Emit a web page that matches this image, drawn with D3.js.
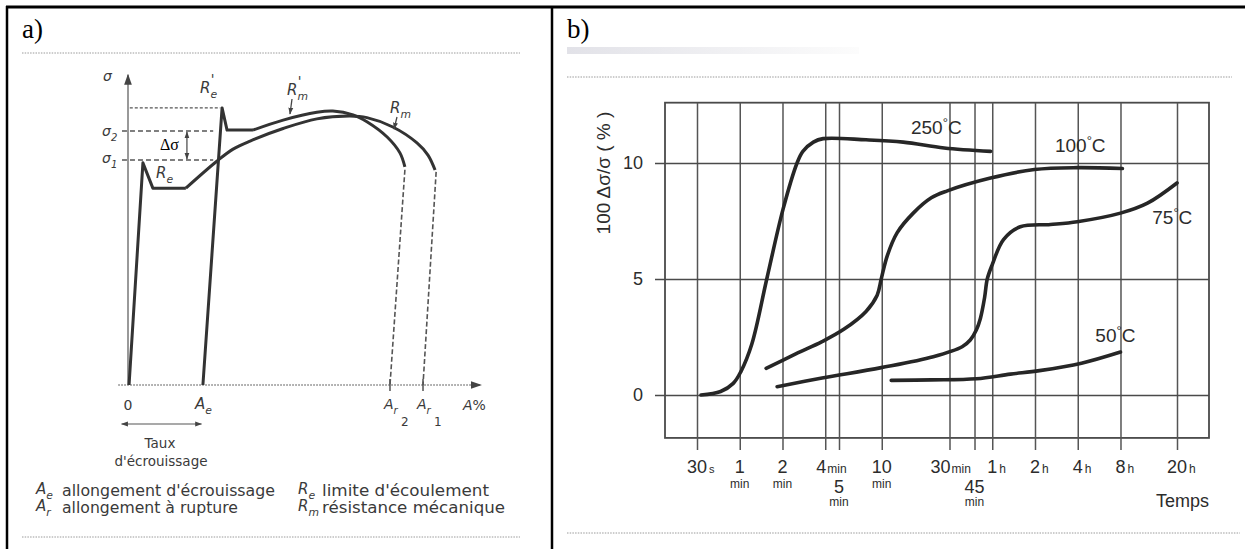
<!DOCTYPE html>
<html lang="fr">
<head>
<meta charset="UTF-8">
<title>Écrouissage et vieillissement après déformation</title>
<style>
  body { margin: 0; background: #fff; }
  svg { display: block; }
  .sans { font-family: "DejaVu Sans", sans-serif; fill: #3a3a3a; }
  .din { font-family: "Liberation Sans", Arial, sans-serif; fill: #2c2c2c; }
  .serif { font-family: "Liberation Serif", "Times New Roman", serif; fill: #000; }
</style>
</head>
<body>
<svg id="fig" width="1245" height="549"></svg>
<script src="https://d3js.org/d3.v7.min.js"></script>
<script>
// ---------- panel a : essai de traction (unités arbitraires, A% / sigma)
const curveRe = [[0.3, 0], [4.2, 71.2], [7.0, 63.1], [16.3, 63.1]];
const curveRm = [[16.3, 63.1], [25.1, 71.8], [29.6, 75.6], [34.4, 78.2], [43.7, 82.2], [53.2, 85.3],
                 [62.5, 86.2], [67.3, 85.7], [74.6, 82.7], [81.4, 77.6], [84.5, 73.7], [86.5, 68.9]];
const curveReP = [[21.1, 0], [26.5, 88.8], [27.9, 81.7], [35.2, 81.7]];
const curveRmP = [[35.2, 81.7], [43.7, 84.9], [53.2, 87.4], [57.7, 87.8], [63.4, 86.6], [67.3, 84.4],
                  [73.0, 79.5], [76.6, 74.4], [78.0, 69.9]];
const ruptureLines = [[[78.0, 69.0], [73.8, 0]], [[86.8, 68.3], [83.1, 0]]];
const stressLevels = [72.1, 81.4];   // sigma1, sigma2
const peakLevel = 88.8;              // R'e
const strainTicks = [0, 21.1, 73.8, 83.1];  // 0, Ae, Ar2, Ar1

// ---------- panel b : 100 Δσ/σ (%) en fonction du temps (s)
const timeTicks = [30, 60, 120, 240, 300, 600, 1800, 2700, 3600, 7200, 14400, 28800, 72000];
const tickNumbers = ["30", "1", "2", "4", "5", "10", "30", "45", "1", "2", "4", "8", "20"];
const tickUnits = ["s", "", "", "min", "", "", "min", "", "h", "h", "h", "h", "h"];
const tickUnder = ["", "min", "min", "", "min", "min", "", "min", "", "", "", "", ""];
const tickLowered = [false, false, false, false, true, false, false, true, false, false, false, false, false];
const valueTicks = [0, 5, 10];

const temperatures = ["250", "100", "75", "50"];
const series250 = [[32, 0.0], [44, 0.15], [54, 0.5], [61, 1.0], [73, 2.2], [93, 5.0], [121, 8.0], [152, 10.0],
                   [167, 10.5], [198, 10.9], [232, 11.05], [465, 11.0], [850, 10.9], [1650, 10.65], [3500, 10.5]];
const series100 = [[92, 1.15], [150, 1.78], [228, 2.3], [326, 2.84], [465, 3.6], [557, 4.3], [595, 5.0],
                   [656, 6.0], [771, 7.0], [1000, 7.84], [1340, 8.5], [1737, 8.8], [3500, 9.35], [7130, 9.72],
                   [14300, 9.8], [29700, 9.76]];
const series75 = [[110, 0.36], [228, 0.73], [595, 1.18], [1383, 1.65], [2210, 2.08], [2520, 2.37], [2780, 2.8],
                  [2970, 3.3], [3180, 4.2], [3320, 5.0], [3590, 5.6], [4320, 6.7], [5670, 7.25], [9250, 7.35],
                  [14300, 7.47], [28800, 7.84], [44600, 8.27], [72000, 9.14]];
const series50 = [[700, 0.63], [1340, 0.65], [2780, 0.7], [4830, 0.9], [7740, 1.05], [15300, 1.37], [28800, 1.85]];
const labelTimes = [1453, 15000, 66700, 26500];
const labelValues = [11.25, 10.47, 7.37, 2.28];

const svg = d3.select("#fig");

const defs = svg.append("defs");
defs.append("marker").attr("id", "head").attr("viewBox", "0 0 10 10")
    .attr("refX", 9).attr("refY", 5).attr("markerWidth", 7).attr("markerHeight", 7)
    .attr("markerUnits", "userSpaceOnUse").attr("orient", "auto-start-reverse")
    .append("path").attr("d", "M0,1.5 L10,5 L0,8.5 z").attr("fill", "#444");
defs.append("marker").attr("id", "bigHead").attr("viewBox", "0 0 10 10")
    .attr("refX", 9).attr("refY", 5).attr("markerWidth", 11).attr("markerHeight", 11)
    .attr("markerUnits", "userSpaceOnUse").attr("orient", "auto")
    .append("path").attr("d", "M0,1.5 L10,5 L0,8.5 z").attr("fill", "#444");
const grad = defs.append("linearGradient").attr("id", "smudge");
grad.append("stop").attr("offset", "0%").attr("stop-color", "#e2e2e8");
grad.append("stop").attr("offset", "100%").attr("stop-color", "#fcfcfc");

// table frame
svg.append("line").attr("x1", 6).attr("x2", 1245).attr("y1", 7).attr("y2", 7).attr("stroke", "#000").attr("stroke-width", 3);
svg.append("line").attr("x1", 7).attr("x2", 7).attr("y1", 6).attr("y2", 549).attr("stroke", "#000").attr("stroke-width", 2.5);
svg.append("line").attr("x1", 552).attr("x2", 552).attr("y1", 6).attr("y2", 549).attr("stroke", "#000").attr("stroke-width", 2.5);

svg.append("text").attr("class", "serif").attr("x", 22).attr("y", 38).attr("font-size", 27).text("a)");
svg.append("text").attr("class", "serif").attr("x", 567).attr("y", 38).attr("font-size", 27).text("b)");

function dotted(x1, x2, y) {
    svg.append("line").attr("x1", x1).attr("x2", x2).attr("y1", y).attr("y2", y)
        .attr("stroke", "#9a9a9a").attr("stroke-width", 1).attr("stroke-dasharray", "1.5,1.2");
}
dotted(22, 520, 53);
dotted(22, 520, 537);
dotted(567, 1232, 77);
dotted(567, 1240, 533);
svg.append("rect").attr("x", 567).attr("y", 47).attr("width", 292).attr("height", 7).attr("fill", "url(#smudge)");

// ================= panel a =================
const xA = d3.scaleLinear().domain([0, 100]).range([128, 483]);
const yA = d3.scaleLinear().domain([0, 100]).range([385, 73]);
const ga = svg.append("g");

// axes
ga.append("line").attr("x1", xA(0)).attr("x2", xA(0)).attr("y1", yA(0)).attr("y2", yA(99.4))
    .attr("stroke", "#555").attr("stroke-width", 1.2).attr("marker-end", "url(#bigHead)");
ga.append("line").attr("x1", xA(-2.8)).attr("x2", xA(99.4)).attr("y1", yA(0)).attr("y2", yA(0))
    .attr("stroke", "#666").attr("stroke-width", 1.1).attr("stroke-dasharray", "2,1")
    .attr("marker-end", "url(#bigHead)");
ga.selectAll(".stick").data(strainTicks.slice(2)).enter().append("line")
    .attr("x1", d => xA(d)).attr("x2", d => xA(d)).attr("y1", yA(0) - 6).attr("y2", yA(0) + 6)
    .attr("stroke", "#444").attr("stroke-width", 1.4);

// stress levels
ga.append("line").attr("x1", xA(0.5)).attr("x2", xA(26)).attr("y1", yA(peakLevel)).attr("y2", yA(peakLevel))
    .attr("stroke", "#555").attr("stroke-width", 1.2).attr("stroke-dasharray", "3,2");
ga.selectAll(".lvl").data(stressLevels).enter().append("line")
    .attr("x1", xA(-1.7)).attr("x2", xA(24)).attr("y1", d => yA(d)).attr("y2", d => yA(d))
    .attr("stroke", "#555").attr("stroke-width", 1.4).attr("stroke-dasharray", "5,3");
ga.append("line").attr("x1", xA(16.6)).attr("x2", xA(16.6))
    .attr("y1", yA(stressLevels[1]) + 1).attr("y2", yA(stressLevels[0]) - 1)
    .attr("stroke", "#444").attr("stroke-width", 1.2)
    .attr("marker-start", "url(#head)").attr("marker-end", "url(#head)");

// curves
const lineA = d3.line().x(d => xA(d[0])).y(d => yA(d[1]));
const smoothA = d3.line().x(d => xA(d[0])).y(d => yA(d[1])).curve(d3.curveCatmullRom.alpha(0.5));
[[curveRe, lineA], [curveRm, smoothA], [curveReP, lineA], [curveRmP, smoothA]].forEach(([data, gen]) => {
    ga.append("path").attr("d", gen(data)).attr("fill", "none")
        .attr("stroke", "#333").attr("stroke-width", 3).attr("stroke-linejoin", "round");
});
ruptureLines.forEach(seg => {
    ga.append("path").attr("d", lineA(seg)).attr("fill", "none")
        .attr("stroke", "#555").attr("stroke-width", 1.6).attr("stroke-dasharray", "5,2.5");
});

// annotations
function sym(g, x, y, main, sub, opts = {}) {
    const size = opts.size || 15;
    const t = g.append("text").attr("class", "sans").attr("x", x).attr("y", y)
        .attr("font-size", size).attr("font-style", "italic");
    t.append("tspan").text(main);
    if (sub) t.append("tspan").attr("dy", 5).attr("font-size", size * 0.72).text(sub);
    if (opts.prime) {
        g.append("text").attr("class", "sans").attr("x", x + size * 0.72).attr("y", y - size * 0.62)
            .attr("font-size", size * 0.9).attr("font-style", "italic").text("'");
    }
    return t;
}
sym(ga, 103, 81, "σ", null, {size: 14});
sym(ga, 102, 136, "σ", "2", {size: 14});
sym(ga, 102, 163, "σ", "1", {size: 14});
ga.append("text").attr("class", "serif").attr("x", 160).attr("y", 150).attr("font-size", 16)
    .attr("fill", "#444").text("Δσ");
sym(ga, 156, 178, "R", "e");
sym(ga, 200, 93, "R", "e", {prime: true});
sym(ga, 287, 95, "R", "m", {prime: true});
sym(ga, 390, 113, "R", "m");
ga.append("line").attr("x1", 292).attr("x2", 290).attr("y1", 99).attr("y2", 114)
    .attr("stroke", "#444").attr("stroke-width", 1.3).attr("marker-end", "url(#head)");
ga.append("line").attr("x1", 397).attr("x2", 394).attr("y1", 117).attr("y2", 129)
    .attr("stroke", "#444").attr("stroke-width", 1.3).attr("marker-end", "url(#head)");

ga.append("text").attr("class", "sans").attr("x", xA(strainTicks[0])).attr("y", 410)
    .attr("text-anchor", "middle").attr("font-size", 14).text("0");
sym(ga, xA(strainTicks[1]) - 8, 409, "A", "e");
[["2", strainTicks[2]], ["1", strainTicks[3]]].forEach(([n, v]) => {
    sym(ga, xA(v) - 6, 409, "A", "r", {size: 14});
    ga.append("text").attr("class", "sans").attr("x", xA(v) + 11).attr("y", 426)
        .attr("font-size", 12).text(n);
});
const ap = ga.append("text").attr("class", "sans").attr("x", 463).attr("y", 410).attr("font-size", 14);
ap.append("tspan").attr("font-style", "italic").text("A");
ap.append("tspan").text("%");

ga.append("line").attr("x1", xA(-1.8)).attr("x2", xA(strainTicks[1] - 0.4)).attr("y1", 424).attr("y2", 424)
    .attr("stroke", "#555").attr("stroke-width", 1.2)
    .attr("marker-start", "url(#head)").attr("marker-end", "url(#head)");
ga.append("text").attr("class", "sans").attr("x", 160).attr("y", 448).attr("text-anchor", "middle")
    .attr("font-size", 13.5).text("Taux");
ga.append("text").attr("class", "sans").attr("x", 161).attr("y", 466).attr("text-anchor", "middle")
    .attr("font-size", 13.5).text("d'écrouissage");

const legendRows = [
    [36, 496, "A", "e", 62, "allongement d'écrouissage", 213],
    [36, 513, "A", "r", 62, "allongement à rupture", 176],
    [298, 496, "R", "e", 322, "limite d'écoulement", 167],
    [298, 513, "R", "m", 322, "résistance mécanique", 183]
];
legendRows.forEach(([sx, y, m, s, tx, label, w]) => {
    sym(ga, sx, y - 2, m, s, {size: 15});
    ga.append("text").attr("class", "sans").attr("x", tx).attr("y", y).attr("font-size", 15)
        .attr("textLength", w).attr("lengthAdjust", "spacingAndGlyphs").text(label);
});

// ================= panel b =================
const xB = d3.scaleLog().domain([30, 72000]).range([697, 1177]);
const yB = d3.scaleLinear().domain([0, 10]).range([395, 163]);
const boxLeft = 665, boxRight = 1209, boxTop = yB(12.6), boxBottom = yB(-1.85);
const gb = svg.append("g");

gb.append("rect").attr("x", boxLeft).attr("y", boxTop).attr("width", boxRight - boxLeft)
    .attr("height", boxBottom - boxTop).attr("fill", "none").attr("stroke", "#4a4a4a").attr("stroke-width", 1.8);

const vGrid = gb.append("g").attr("transform", "translate(0,450)")
    .call(d3.axisBottom(xB).tickValues(timeTicks).tickSize(-(450 - boxTop)).tickFormat(""));
vGrid.select(".domain").remove();
vGrid.selectAll("line").attr("stroke", "#555").attr("stroke-width", 1.5);

const hGrid = gb.append("g").attr("transform", `translate(655,0)`)
    .call(d3.axisLeft(yB).tickValues(valueTicks).tickSize(-(boxRight - 655)).tickPadding(12).tickFormat(d3.format("d")));
hGrid.select(".domain").remove();
hGrid.selectAll("line").attr("stroke", "#4a4a4a").attr("stroke-width", 1.7);
hGrid.selectAll("text").attr("class", "din").attr("font-size", 18).attr("fill", "#333");

const lineB = d3.line().x(d => xB(d[0])).y(d => yB(d[1])).curve(d3.curveCatmullRom.alpha(0.5));
[series250, series100, series75, series50].forEach(s => {
    gb.append("path").attr("d", lineB(s)).attr("fill", "none")
        .attr("stroke", "#262626").attr("stroke-width", 3.6).attr("stroke-linecap", "round");
});

temperatures.forEach((t, i) => {
    const txt = gb.append("text").attr("class", "din").attr("x", xB(labelTimes[i])).attr("y", yB(labelValues[i]))
        .attr("text-anchor", "middle").attr("font-size", 19);
    txt.append("tspan").text(t);
    txt.append("tspan").attr("dy", -7).attr("font-size", 13).text("°");
    txt.append("tspan").attr("dy", 7).text("C");
});

// time tick labels
timeTicks.forEach((t, i) => {
    const x = xB(t);
    const y = tickLowered[i] ? 493 : 473;
    const unit = tickUnits[i];
    if (unit === "min") {
        gb.append("text").attr("class", "din").attr("x", x + 1).attr("y", y).attr("text-anchor", "end")
            .attr("font-size", 18).text(tickNumbers[i]);
        gb.append("text").attr("class", "din").attr("x", x + 2).attr("y", y).attr("font-size", 12).text(unit);
    } else {
        const num = gb.append("text").attr("class", "din").attr("x", x).attr("y", y).attr("text-anchor", "middle")
            .attr("font-size", 18).text(tickNumbers[i]);
        if (unit) {
            const w = num.node().getComputedTextLength();
            gb.append("text").attr("class", "din").attr("x", x + w / 2 + 2).attr("y", y)
                .attr("font-size", unit === "s" ? 11 : 12).text(unit);
        }
    }
    if (tickUnder[i]) {
        gb.append("text").attr("class", "din").attr("x", x).attr("y", tickLowered[i] ? 506 : 488)
            .attr("text-anchor", "middle").attr("font-size", 12).text(tickUnder[i]);
    }
});
gb.append("text").attr("class", "din").attr("x", boxRight).attr("y", 507).attr("text-anchor", "end")
    .attr("font-size", 18).text("Temps");

gb.append("text").attr("class", "din").attr("transform", "translate(610,173) rotate(-90)")
    .attr("text-anchor", "middle").attr("font-size", 19).text("100 Δσ/σ ( % )");
</script>
</body>
</html>
